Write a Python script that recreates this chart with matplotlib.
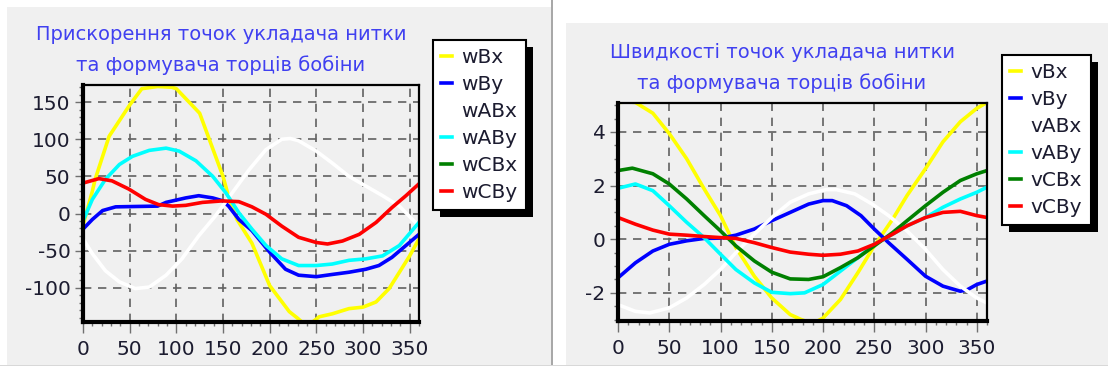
import numpy as np
import matplotlib
matplotlib.use("Agg")
import matplotlib.pyplot as plt
from matplotlib.patches import Rectangle
from matplotlib.ticker import MultipleLocator
from matplotlib.transforms import IdentityTransform

plt.rcParams['font.family'] = ['DejaVu Sans']
plt.rcParams['axes.unicode_minus'] = False

# --- accelerations (left panel) ---
wBx_x = [0, 10, 13, 28, 50, 63, 80, 95, 100, 125, 150, 157, 165, 181, 200, 221, 230, 240, 253, 267, 285, 300, 314, 328, 339, 350, 360]
wBx_y = [-16, 30, 46, 104, 146, 168, 171, 170, 168, 135, 50, 18, -8, -40, -97, -132, -141, -152, -139, -135, -128, -126, -119, -101, -79, -57, -34]
wBy_x = [0, 10, 21, 35, 80, 89, 110, 124, 139, 150, 156, 167, 181, 200, 217, 231, 250, 267, 285, 303, 317, 331, 346, 360]
wBy_y = [-21, -8, 4, 9, 10, 15, 21, 24, 21, 17, 10, -8, -23, -52, -75, -83, -85, -82, -79, -75, -70, -59, -43, -28]
wABx_x = [0, 10, 24, 39, 56, 71, 89, 106, 124, 142, 160, 178, 196, 213, 222, 231, 250, 267, 285, 303, 321, 339, 360]
wABx_y = [-34, -54, -77, -92, -101, -99, -83, -61, -30, -3, 28, 59, 86, 100, 101, 98, 84, 68, 50, 37, 24, 10, -17]
wABy_x = [0, 10, 24, 39, 53, 71, 89, 103, 121, 139, 153, 167, 181, 196, 213, 231, 250, 267, 285, 303, 321, 339, 360]
wABy_y = [-10, 19, 46, 66, 77, 85, 88, 84, 71, 50, 28, 1, -21, -43, -61, -70, -70, -68, -63, -61, -57, -43, -12]
wCBy_x = [0, 17, 31, 49, 67, 81, 96, 110, 128, 149, 167, 181, 196, 213, 231, 250, 262, 278, 296, 314, 331, 346, 360]
wCBy_y = [41, 47, 44, 33, 19, 12, 10, 11, 15, 17, 16, 9, -1, -17, -32, -39, -41, -37, -28, -12, 8, 24, 40]

# --- velocities (right panel) ---
vBx_x = [0, 10, 17, 34, 50, 67, 84, 100, 115, 133, 150, 168, 179, 190, 200, 217, 234, 250, 268, 282, 300, 317, 334, 350, 360]
vBx_y = [5.1, 5.12, 5.1, 4.7, 3.94, 3.0, 1.88, 0.88, -0.31, -1.38, -2.19, -2.81, -3.0, -3.15, -2.94, -2.25, -1.25, -0.25, 0.75, 1.63, 2.63, 3.63, 4.38, 4.88, 5.1]
vBy_x = [0, 17, 34, 50, 67, 84, 100, 115, 133, 150, 168, 186, 200, 209, 223, 237, 250, 264, 282, 300, 317, 334, 341, 350, 360]
vBy_y = [-1.44, -0.88, -0.44, -0.19, -0.06, 0.03, 0.04, 0.15, 0.38, 0.69, 1.0, 1.31, 1.44, 1.44, 1.25, 0.88, 0.38, -0.13, -0.75, -1.38, -1.75, -1.94, -1.88, -1.69, -1.56]
vABx_x = [0, 17, 31, 50, 67, 84, 100, 115, 133, 150, 168, 186, 203, 213, 231, 248, 264, 282, 300, 317, 334, 350, 360]
vABx_y = [-2.44, -2.69, -2.75, -2.56, -2.19, -1.69, -1.13, -0.5, 0.19, 0.81, 1.38, 1.69, 1.85, 1.85, 1.69, 1.31, 0.88, 0.31, -0.38, -1.13, -1.75, -2.19, -2.38]
vABy_x = [0, 17, 34, 50, 67, 84, 100, 115, 133, 150, 168, 182, 200, 217, 234, 250, 268, 282, 300, 317, 334, 350, 360]
vABy_y = [1.9, 2.06, 1.81, 1.25, 0.63, 0.06, -0.56, -1.13, -1.63, -1.98, -2.03, -2.0, -1.69, -1.19, -0.69, -0.19, 0.19, 0.5, 0.81, 1.19, 1.5, 1.75, 1.94]
vCBx_x = [0, 14, 34, 50, 67, 84, 100, 115, 133, 150, 168, 186, 200, 217, 234, 250, 268, 282, 300, 317, 334, 350, 360]
vCBx_y = [2.56, 2.65, 2.44, 2.06, 1.5, 0.88, 0.31, -0.25, -0.81, -1.23, -1.48, -1.5, -1.4, -1.06, -0.69, -0.25, 0.25, 0.69, 1.25, 1.75, 2.19, 2.44, 2.56]
vCBy_x = [0, 17, 34, 50, 67, 84, 100, 115, 133, 150, 168, 186, 200, 217, 234, 250, 268, 282, 300, 317, 334, 350, 360]
vCBy_y = [0.81, 0.56, 0.34, 0.19, 0.15, 0.1, 0.06, 0.03, -0.13, -0.31, -0.48, -0.56, -0.6, -0.56, -0.44, -0.19, 0.19, 0.5, 0.81, 1.0, 1.04, 0.88, 0.81]

left_title = ["Прискорення точок укладача нитки", "та формувача торців бобіни"]
right_title = ["Швидкості точок укладача нитки", "та формувача торців бобіни"]

colors = ['#ffff00', '#0000ff', '#ffffff', '#00ffff', '#008000', '#ff0000']
BG = '#f0f0f0'
TXT = '#1c1c30'
W, H = 1108, 374

fig = plt.figure(figsize=(W / 100, H / 100), dpi=100)
fig.patch.set_facecolor('white')


def px_rect(x0, y0, x1, y1, **kw):
    # rectangle given in image pixels (top-left origin)
    r = Rectangle((x0 / W, 1 - y1 / H), (x1 - x0) / W, (y1 - y0) / H,
                  transform=fig.transFigure, **kw)
    fig.patches.append(r)
    return r


px_rect(7, 7, 551, 365, facecolor=BG, edgecolor='none', zorder=-2)
px_rect(566, 23, 1108, 365, facecolor=BG, edgecolor='none', zorder=-2)
px_rect(551, 0, 553, 366, facecolor='#a8a8a8', edgecolor='none', zorder=-1)
px_rect(0, 365, 1108, 366, facecolor='#d8d8d8', edgecolor='none', zorder=-1)


def make_axes(box):
    x0, y0, x1, y1 = box
    ax = fig.add_axes([x0 / W, 1 - y1 / H, (x1 - x0) / W, (y1 - y0) / H])
    ax.set_facecolor(BG)
    ax.set_xlim(0, 360)
    ax.set_xticks(range(0, 351, 50))
    ax.xaxis.set_minor_locator(MultipleLocator(10))
    ax.grid(True, which='major', color='#606060', linestyle=(0, (5, 4)), linewidth=1.2)
    ax.set_axisbelow(True)
    for s in ('left', 'bottom'):
        ax.spines[s].set_linewidth(3)
    for s in ('top', 'right'):
        ax.spines[s].set_linewidth(1.6)
    ax.tick_params(which='major', direction='out', length=6, width=1, color='#707070',
                   labelsize=14.5, labelcolor=TXT, pad=3)
    ax.tick_params(which='minor', direction='out', length=3, width=1, color='#707070')
    ax.tick_params(axis='x', which='major', length=8, pad=5)
    return ax


def add_legend(ax, x0, y0):
    handles, labels = ax.get_legend_handles_labels()
    leg = fig.legend(handles, labels, loc='upper left',
                     bbox_to_anchor=(x0 / W, 1 - y0 / H), borderaxespad=0,
                     frameon=True, fancybox=False, facecolor='white', framealpha=1,
                     edgecolor='black', fontsize=14.5,
                     handlelength=0.5, handletextpad=0.5, labelspacing=0.39,
                     borderpad=0.42)
    leg.get_frame().set_linewidth(1.5)
    leg.set_zorder(6)
    for t in leg.get_texts():
        t.set_color(TXT)
    return leg


# left panel
ax1 = make_axes((83, 85, 419, 322))
ax1.set_ylim(-146, 173)
ax1.set_yticks(range(-100, 151, 50))
ax1.yaxis.set_minor_locator(MultipleLocator(10))
lw = 2.6
ax1.plot(wBx_x, wBx_y, color=colors[0], lw=lw, label='wBx')
ax1.plot(wBy_x, wBy_y, color=colors[1], lw=lw, label='wBy')
ax1.plot(wABx_x, wABx_y, color=colors[2], lw=lw, label='wABx')
ax1.plot(wABy_x, wABy_y, color=colors[3], lw=lw, label='wABy')
ax1.plot([], [], color=colors[4], lw=lw, label='wCBx')
ax1.plot(wCBy_x, wCBy_y, color=colors[5], lw=lw, label='wCBy')

# right panel
ax2 = make_axes((618, 103, 987, 321))
ax2.set_ylim(-3.05, 5.08)
ax2.set_yticks([-2, 0, 2, 4])
ax2.yaxis.set_minor_locator(MultipleLocator(0.5))
ax2.plot(vBx_x, vBx_y, color=colors[0], lw=lw, label='vBx')
ax2.plot(vBy_x, vBy_y, color=colors[1], lw=lw, label='vBy')
ax2.plot(vABx_x, vABx_y, color=colors[2], lw=lw, label='vABx')
ax2.plot(vABy_x, vABy_y, color=colors[3], lw=lw, label='vABy')
ax2.plot(vCBx_x, vCBx_y, color=colors[4], lw=lw, label='vCBx')
ax2.plot(vCBy_x, vCBy_y, color=colors[5], lw=lw, label='vCBy')

# titles
tcol = '#4040f0'
for i, line in enumerate(left_title):
    fig.text(221 / W, 1 - (35 + 30 * i) / H, line, ha='center', va='center',
             fontsize=14, color=tcol)
for i, line in enumerate(right_title):
    fig.text(782 / W, 1 - (53 + 30 * i) / H, line, ha='center', va='center',
             fontsize=14, color=tcol)

leg1 = add_legend(ax1, 433, 40)
leg2 = add_legend(ax2, 1002, 55)

fig.canvas.draw()
for leg in (leg1, leg2):
    bb = leg.get_window_extent()
    sh = Rectangle((bb.x0 + 7, bb.y0 - 7), bb.width, bb.height, transform=IdentityTransform(),
                   facecolor='black', edgecolor='none', zorder=5)
    fig.patches.append(sh)

fig.savefig('out.png', dpi=100)
